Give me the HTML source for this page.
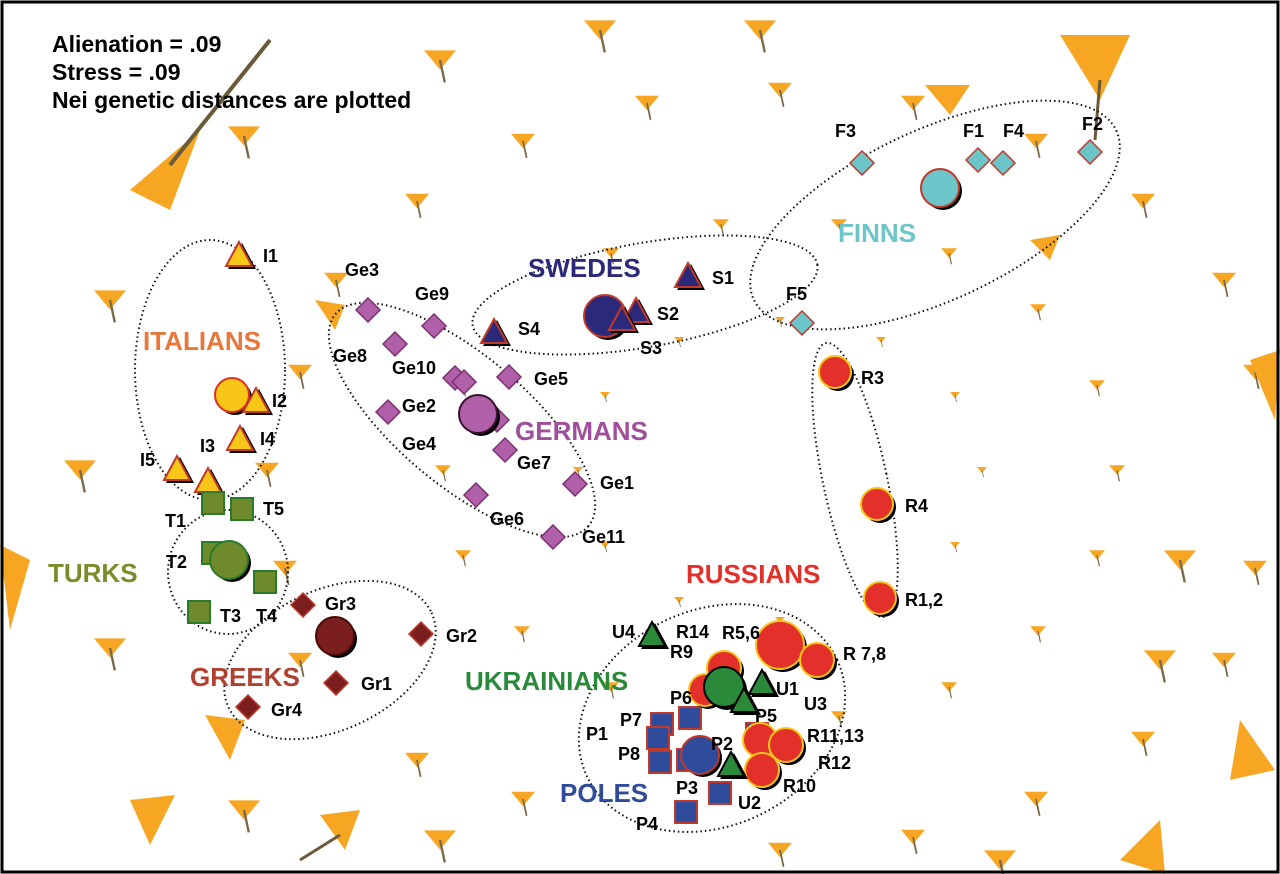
<!DOCTYPE html>
<html><head><meta charset="utf-8"><style>
html,body{margin:0;padding:0;background:#fff;}
svg{display:block;}
text{font-family:"Liberation Sans",Arial,sans-serif;font-weight:bold;}
</style></head><body>
<svg width="1280" height="874" viewBox="0 0 1280 874" xmlns="http://www.w3.org/2000/svg" xmlns:xlink="http://www.w3.org/1999/xlink">
<defs>
<g id="b"><polygon points="-10,-6 10,-6 0,6" fill="#f6a623"/><line x1="0" y1="0" x2="3" y2="14" stroke="#7a6a4a" stroke-width="1.5"/></g>
</defs>
<rect x="0" y="0" width="1280" height="874" fill="#fff"/>
<!-- background rings -->
<g>
<use xlink:href="#b" transform="translate(982,470) scale(.5)"/><use xlink:href="#b" transform="translate(955,545) scale(.5)"/><use xlink:href="#b" transform="translate(881,600) scale(.5)"/><use xlink:href="#b" transform="translate(780,620) scale(.5)"/><use xlink:href="#b" transform="translate(679,600) scale(.5)"/><use xlink:href="#b" transform="translate(605,545) scale(.5)"/><use xlink:href="#b" transform="translate(578,470) scale(.5)"/><use xlink:href="#b" transform="translate(605,395) scale(.5)"/><use xlink:href="#b" transform="translate(679,340) scale(.5)"/><use xlink:href="#b" transform="translate(780,320) scale(.5)"/><use xlink:href="#b" transform="translate(881,340) scale(.5)"/><use xlink:href="#b" transform="translate(955,395) scale(.5)"/>
<use xlink:href="#b" transform="translate(1117,470) scale(.8)"/><use xlink:href="#b" transform="translate(1097,555) scale(.8)"/><use xlink:href="#b" transform="translate(1038,631) scale(.8)"/><use xlink:href="#b" transform="translate(949,687) scale(.8)"/><use xlink:href="#b" transform="translate(839,716) scale(.8)"/><use xlink:href="#b" transform="translate(611,687) scale(.8)"/><use xlink:href="#b" transform="translate(522,631) scale(.8)"/><use xlink:href="#b" transform="translate(463,555) scale(.8)"/><use xlink:href="#b" transform="translate(443,470) scale(.8)"/><use xlink:href="#b" transform="translate(463,385) scale(.8)"/><use xlink:href="#b" transform="translate(611,253) scale(.8)"/><use xlink:href="#b" transform="translate(721,224) scale(.8)"/><use xlink:href="#b" transform="translate(839,224) scale(.8)"/><use xlink:href="#b" transform="translate(949,253) scale(.8)"/><use xlink:href="#b" transform="translate(1038,309) scale(.8)"/><use xlink:href="#b" transform="translate(1097,385) scale(.8)"/>
<use xlink:href="#b" transform="translate(1255,568) scale(1.2)"/><use xlink:href="#b" transform="translate(1224,660) scale(1.2)"/><use xlink:href="#b" transform="translate(1143,739) scale(1.2)"/><use xlink:href="#b" transform="translate(1036,799) scale(1.2)"/><use xlink:href="#b" transform="translate(913,837) scale(1.2)"/><use xlink:href="#b" transform="translate(780,850) scale(1.2)"/><use xlink:href="#b" transform="translate(523,799) scale(1.2)"/><use xlink:href="#b" transform="translate(417,760) scale(1.2)"/><use xlink:href="#b" transform="translate(300,660) scale(1.2)"/><use xlink:href="#b" transform="translate(285,568) scale(1.2)"/><use xlink:href="#b" transform="translate(267,470) scale(1.2)"/><use xlink:href="#b" transform="translate(300,372) scale(1.2)"/><use xlink:href="#b" transform="translate(336,280) scale(1.2)"/><use xlink:href="#b" transform="translate(417,201) scale(1.2)"/><use xlink:href="#b" transform="translate(523,141) scale(1.2)"/><use xlink:href="#b" transform="translate(647,103) scale(1.2)"/><use xlink:href="#b" transform="translate(780,90) scale(1.2)"/><use xlink:href="#b" transform="translate(913,103) scale(1.2)"/><use xlink:href="#b" transform="translate(1036,141) scale(1.2)"/><use xlink:href="#b" transform="translate(1143,201) scale(1.2)"/><use xlink:href="#b" transform="translate(1224,280) scale(1.2)"/><use xlink:href="#b" transform="translate(1255,372) scale(1.2)"/>
<use xlink:href="#b" transform="translate(80,470) scale(1.6)"/><use xlink:href="#b" transform="translate(110,300) scale(1.6)"/><use xlink:href="#b" transform="translate(110,648) scale(1.6)"/><use xlink:href="#b" transform="translate(244,810) scale(1.6)"/><use xlink:href="#b" transform="translate(244,136) scale(1.6)"/><use xlink:href="#b" transform="translate(440,840) scale(1.6)"/><use xlink:href="#b" transform="translate(1180,560) scale(1.6)"/><use xlink:href="#b" transform="translate(1160,660) scale(1.6)"/><use xlink:href="#b" transform="translate(1000,860) scale(1.6)"/><use xlink:href="#b" transform="translate(440,60) scale(1.6)"/><use xlink:href="#b" transform="translate(760,30) scale(1.6)"/><use xlink:href="#b" transform="translate(600,30) scale(1.6)"/>
</g>
<!-- big decorative -->
<g fill="#f6a623">
<polygon points="130,190 200,130 170,210"/><line x1="170" y1="165" x2="270" y2="40" stroke="#6a5a3a" stroke-width="4"/>
<polygon points="1060,35 1130,35 1100,100"/><line x1="1100" y1="80" x2="1095" y2="140" stroke="#6a5a3a" stroke-width="3"/>
<polygon points="925,85 970,85 950,115"/>
<polygon points="1250,360 1280,350 1275,420"/>
<polygon points="0,545 30,560 10,630"/>
<polygon points="1240,720 1275,770 1230,780"/>
<polygon points="1120,860 1160,820 1165,874"/>
<polygon points="205,715 245,720 230,760"/>
<polygon points="320,815 360,810 345,850"/><line x1="340" y1="835" x2="300" y2="860" stroke="#6a5a3a" stroke-width="3"/>
<polygon points="130,800 175,795 150,845"/>
<polygon points="315,300 345,305 335,330"/>
<polygon points="1030,240 1060,235 1050,260"/>
</g>
<!-- ellipses -->
<g fill="none" stroke="#111" stroke-width="2" stroke-dasharray="1.5 3">
<ellipse cx="935" cy="215" rx="200" ry="85" transform="rotate(-25 935 215)"/>
<ellipse cx="645" cy="295" rx="175" ry="52" transform="rotate(-10 645 295)"/>
<ellipse cx="210" cy="370" rx="75" ry="130"/>
<ellipse cx="462" cy="420" rx="165" ry="65" transform="rotate(40 462 420)"/>
<ellipse cx="228" cy="572" rx="60" ry="62"/>
<ellipse cx="330" cy="660" rx="112" ry="70" transform="rotate(-25 330 660)"/>
<ellipse cx="855" cy="480" rx="32" ry="140" transform="rotate(-12 855 480)"/>
<ellipse cx="712" cy="718" rx="138" ry="108" transform="rotate(-25 712 718)"/>
</g>
<!-- markers -->
<!-- Finns -->
<g fill="#6cc5c8" stroke="#c0392b" stroke-width="1.5">
<polygon points="862,151 874,163 862,175 850,163"/><polygon points="978,148 990,160 978,172 966,160"/><polygon points="1003,151 1015,163 1003,175 991,163"/><polygon points="1090,140 1102,152 1090,164 1078,152"/><polygon points="802,311 814,323 802,335 790,323"/>
</g>
<circle cx="943" cy="191" r="19" fill="#000"/><circle cx="940" cy="188" r="19" fill="#6cc5c8" stroke="#c0392b" stroke-width="2"/>
<!-- Swedes -->
<circle cx="608" cy="319" r="21" fill="#000"/><circle cx="605" cy="316" r="21" fill="#2b2a7a" stroke="#c0392b" stroke-width="2"/>
<g><polygon points="691,264 705,290 677,290" fill="#000"/><polygon points="688,263 701,287 675,287" fill="#2b2a7a" stroke="#c0392b" stroke-width="2"/>
<polygon points="497,320 511,346 483,346" fill="#000"/><polygon points="494,319 507,343 481,343" fill="#2b2a7a" stroke="#c0392b" stroke-width="2"/>
<polygon points="639,299 653,325 625,325" fill="#000"/><polygon points="636,298 649,322 623,322" fill="#2b2a7a" stroke="#c0392b" stroke-width="2"/>
<polygon points="625,307 639,333 611,333" fill="#000"/><polygon points="622,306 635,330 609,330" fill="#2b2a7a" stroke="#c0392b" stroke-width="2"/></g>
<!-- Italians -->
<circle cx="235" cy="398" r="17" fill="#000"/><circle cx="232" cy="395" r="17" fill="#f7c617" stroke="#e03020" stroke-width="2"/>
<g fill="#f7c617" stroke="#c0392b" stroke-width="2">
<polygon points="242,243 256,269 228,269" fill="#000" stroke="none"/><polygon points="239,242 252,266 226,266"/>
<polygon points="259,389 273,415 245,415" fill="#000" stroke="none"/><polygon points="256,388 269,412 243,412"/>
<polygon points="243,427 257,453 229,453" fill="#000" stroke="none"/><polygon points="240,426 253,450 227,450"/>
<polygon points="211,469 225,495 197,495" fill="#000" stroke="none"/><polygon points="208,468 221,492 195,492"/>
<polygon points="180,457 194,483 166,483" fill="#000" stroke="none"/><polygon points="177,456 190,480 164,480"/>
</g>
<!-- Germans -->
<g fill="#b060a8" stroke="#7a3070" stroke-width="1.5">
<polygon points="368,298 380,310 368,322 356,310"/><polygon points="434,314 446,326 434,338 422,326"/><polygon points="395,332 407,344 395,356 383,344"/><polygon points="455,366 467,378 455,390 443,378"/><polygon points="464,370 476,382 464,394 452,382"/><polygon points="509,365 521,377 509,389 497,377"/><polygon points="497,408 509,420 497,432 485,420"/><polygon points="505,438 517,450 505,462 493,450"/><polygon points="575,472 587,484 575,496 563,484"/><polygon points="476,483 488,495 476,507 464,495"/><polygon points="553,525 565,537 553,549 541,537"/><polygon points="388,400 400,412 388,424 376,412"/>
</g>
<circle cx="481" cy="417" r="19" fill="#000"/><circle cx="478" cy="414" r="19" fill="#b060a8" stroke="#3a1030" stroke-width="2"/>
<!-- Turks -->
<g fill="#6f8a2a" stroke="#2a7a2a" stroke-width="2">
<rect x="202" y="492" width="22" height="22"/><rect x="231" y="498" width="22" height="22"/><rect x="202" y="542" width="22" height="22"/><rect x="254" y="571" width="22" height="22"/><rect x="188" y="601" width="22" height="22"/>
</g>
<circle cx="232" cy="563" r="19" fill="#000"/><circle cx="229" cy="560" r="19" fill="#6f8a2a" stroke="#2a7a2a" stroke-width="2"/>
<!-- Greeks -->
<g fill="#7a1e1e" stroke="#c0392b" stroke-width="1.5">
<polygon points="303,593 315,605 303,617 291,605"/><polygon points="421,622 433,634 421,646 409,634"/><polygon points="336,671 348,683 336,695 324,683"/><polygon points="248,695 260,707 248,719 236,707"/>
</g>
<circle cx="338" cy="639" r="19" fill="#000"/><circle cx="335" cy="636" r="19" fill="#7a1e1e" stroke="#4a0a0a" stroke-width="2"/>
<!-- Poles -->
<g fill="#2f4b9c" stroke="#c0392b" stroke-width="2">
<rect x="651" y="713" width="22" height="22"/><rect x="679" y="707" width="22" height="22"/><rect x="647" y="727" width="22" height="22"/><rect x="649" y="751" width="22" height="22"/><rect x="746" y="723" width="22" height="22"/><rect x="709" y="782" width="22" height="22"/><rect x="675" y="801" width="22" height="22"/><rect x="677" y="749" width="22" height="22"/>
</g>
<circle cx="703" cy="758" r="19" fill="#000"/><circle cx="700" cy="755" r="19" fill="#2f4b9c" stroke="#c0392b" stroke-width="2"/>
<!-- Russians -->
<g fill="#000">
<circle cx="838" cy="375" r="16"/><circle cx="880" cy="507" r="16"/><circle cx="883" cy="601" r="16"/><circle cx="783" cy="648" r="24"/><circle cx="820" cy="663" r="17"/><circle cx="727" cy="671" r="17"/><circle cx="708" cy="693" r="16"/><circle cx="763" cy="743" r="17"/><circle cx="789" cy="748" r="17"/><circle cx="765" cy="773" r="17"/>
</g>
<g fill="#e3302a" stroke="#f7c617" stroke-width="2">
<circle cx="835" cy="372" r="16"/><circle cx="877" cy="504" r="16"/><circle cx="880" cy="598" r="16"/><circle cx="780" cy="645" r="24"/><circle cx="817" cy="660" r="17"/><circle cx="724" cy="668" r="17"/><circle cx="705" cy="690" r="16"/><circle cx="760" cy="740" r="17"/><circle cx="786" cy="745" r="17"/><circle cx="762" cy="770" r="17"/>
</g>
<!-- Ukrainians -->
<circle cx="727" cy="690" r="20" fill="#000"/><circle cx="724" cy="687" r="20" fill="#2a8a3a" stroke="#000" stroke-width="2"/>
<g fill="#2a8a3a" stroke="#000" stroke-width="2">
<polygon points="655,623 669,649 641,649" fill="#000" stroke="none"/><polygon points="652,622 665,646 639,646"/>
<polygon points="765,671 779,697 751,697" fill="#000" stroke="none"/><polygon points="762,670 775,694 749,694"/>
<polygon points="747,689 761,715 733,715" fill="#000" stroke="none"/><polygon points="744,688 757,712 731,712"/>
<polygon points="734,753 748,779 720,779" fill="#000" stroke="none"/><polygon points="731,752 744,776 718,776"/>
</g>
<!-- texts -->
<g font-size="23" fill="#000">
<text x="52" y="52">Alienation = .09</text>
<text x="52" y="80">Stress = .09</text>
<text x="52" y="108">Nei genetic distances are plotted</text>
</g>
<g font-size="26">
<text x="838" y="242" fill="#6cc5c8">FINNS</text>
<text x="528" y="277" fill="#2b2a7a">SWEDES</text>
<text x="143" y="350" fill="#e8773a">ITALIANS</text>
<text x="515" y="440" fill="#a0509a">GERMANS</text>
<text x="48" y="582" fill="#7f8a2a">TURKS</text>
<text x="190" y="686" fill="#b04030">GREEKS</text>
<text x="686" y="583" fill="#e3302a">RUSSIANS</text>
<text x="465" y="690" fill="#2a8a3a">UKRAINIANS</text>
<text x="560" y="802" fill="#2f4b9c">POLES</text>
</g>
<g font-size="18" fill="#000">
<text x="835" y="137">F3</text><text x="963" y="137">F1</text><text x="1003" y="137">F4</text><text x="1082" y="130">F2</text><text x="786" y="300">F5</text>
<text x="712" y="284">S1</text><text x="518" y="335">S4</text><text x="657" y="320">S2</text><text x="640" y="354">S3</text>
<text x="263" y="262">I1</text><text x="272" y="407">I2</text><text x="260" y="445">I4</text><text x="200" y="452">I3</text><text x="140" y="466">I5</text>
<text x="345" y="276">Ge3</text><text x="415" y="300">Ge9</text><text x="333" y="362">Ge8</text><text x="392" y="374">Ge10</text><text x="534" y="385">Ge5</text><text x="402" y="412">Ge2</text><text x="402" y="450">Ge4</text><text x="517" y="469">Ge7</text><text x="600" y="489">Ge1</text><text x="490" y="525">Ge6</text><text x="582" y="543">Ge11</text>
<text x="165" y="527">T1</text><text x="263" y="515">T5</text><text x="166" y="568">T2</text><text x="220" y="622">T3</text><text x="256" y="622">T4</text>
<text x="325" y="610">Gr3</text><text x="446" y="642">Gr2</text><text x="361" y="690">Gr1</text><text x="271" y="716">Gr4</text>
<text x="861" y="384">R3</text><text x="905" y="512">R4</text><text x="905" y="606">R1,2</text><text x="722" y="639">R5,6</text><text x="676" y="638">R14</text><text x="670" y="658">R9</text><text x="843" y="660">R 7,8</text><text x="807" y="742">R11,13</text><text x="818" y="769">R12</text><text x="783" y="792">R10</text>
<text x="612" y="638">U4</text><text x="776" y="695">U1</text><text x="804" y="710">U3</text><text x="738" y="809">U2</text>
<text x="670" y="704">P6</text><text x="620" y="726">P7</text><text x="586" y="740">P1</text><text x="618" y="760">P8</text><text x="711" y="750">P2</text><text x="755" y="722">P5</text><text x="676" y="794">P3</text><text x="636" y="830">P4</text>
</g>
<rect x="2" y="2" width="1276" height="870" fill="none" stroke="#000" stroke-width="3"/>
</svg>
</body></html>
